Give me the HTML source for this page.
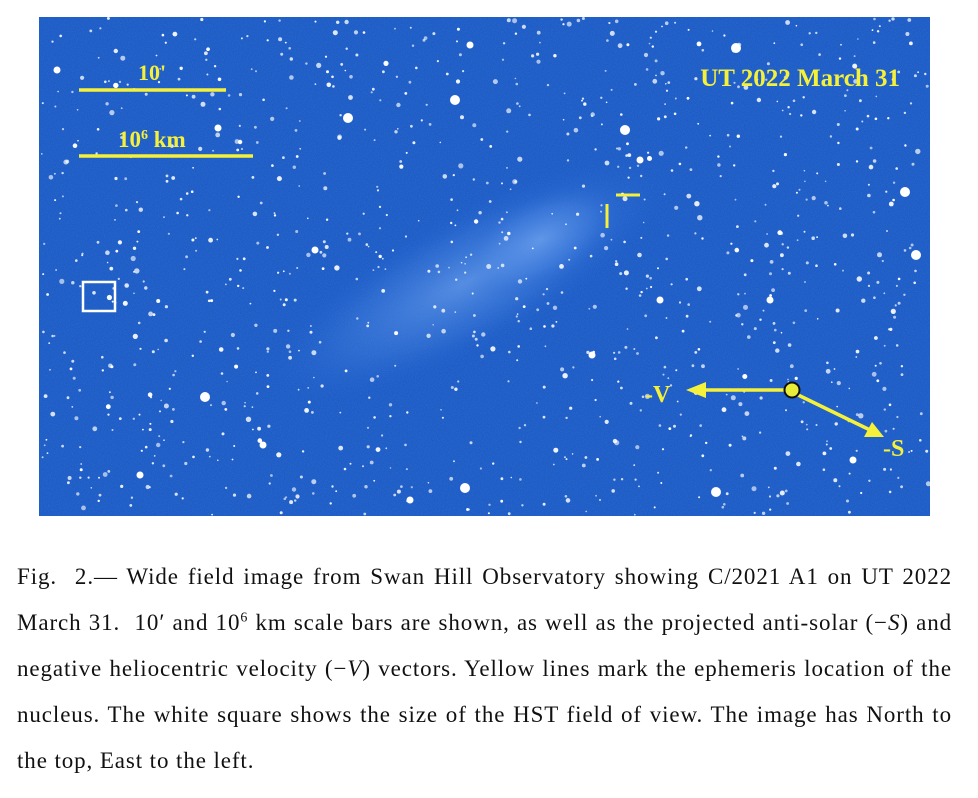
<!DOCTYPE html>
<html><head><meta charset="utf-8">
<style>
html,body{margin:0;padding:0;background:#fff;width:978px;height:798px;overflow:hidden}
#fig{position:absolute;left:39px;top:17px}
#cap{position:absolute;left:17px;top:554px;width:935px;font-family:"Liberation Serif",serif;font-size:23px;letter-spacing:0.9px;line-height:46px;color:#111}
#cap div{text-align:justify;text-align-last:justify;white-space:nowrap}
#cap div.last{text-align-last:left}
</style></head><body>
<svg id="fig" width="891" height="499" viewBox="39 17 891 499">
<defs>
<radialGradient id="tail" cx="0.5" cy="0.5" r="0.5">
<stop offset="0" stop-color="#6fa4ee" stop-opacity="0.7"/>
<stop offset="0.6" stop-color="#4f8ae6" stop-opacity="0.3"/>
<stop offset="1" stop-color="#1e62d2" stop-opacity="0"/>
</radialGradient>
<filter id="noise" x="0" y="0" width="1" height="1"><feTurbulence type="fractalNoise" baseFrequency="1.3" numOctaves="1" seed="3"/><feColorMatrix values="0 0 0 0 0.04  0 0 0 0 0.16  0 0 0 0 0.5  2 0 0 0 -0.7"/></filter>
</defs>
<rect x="39" y="17" width="891" height="499" fill="#1a5bcc"/>
<rect x="39" y="17" width="891" height="499" filter="url(#noise)" opacity="0.8"/>
<ellipse cx="470" cy="280" rx="230" ry="70" transform="rotate(-28 470 280)" fill="url(#tail)"/>
<ellipse cx="540" cy="240" rx="90" ry="45" transform="rotate(-28 540 240)" fill="url(#tail)"/>
<g id="stars"></g>
<line x1="79" y1="90" x2="226" y2="90" stroke="#f5f03a" stroke-width="3.5"/>
<text x="152" y="80" font-family="Liberation Serif" font-weight="bold" font-size="22" fill="#f5f03a" text-anchor="middle">10'</text>
<line x1="79" y1="156" x2="253" y2="156" stroke="#f5f03a" stroke-width="3.5"/>
<text x="118" y="147" font-family="Liberation Serif" font-weight="bold" font-size="23" fill="#f5f03a">10<tspan font-size="14" dy="-8">6</tspan><tspan dy="8"> km</tspan></text>
<text x="900" y="86" font-family="Liberation Serif" font-weight="bold" font-size="25" fill="#f5f03a" text-anchor="end">UT 2022 March 31</text>
<line x1="616" y1="195" x2="640" y2="195" stroke="#f5f03a" stroke-width="3"/>
<line x1="607" y1="204" x2="607" y2="228" stroke="#f5f03a" stroke-width="3"/>
<rect x="83" y="282" width="32" height="29" fill="none" stroke="#fff" stroke-width="2.5"/>
<line x1="790" y1="390" x2="700" y2="390" stroke="#f5f03a" stroke-width="3.5"/>
<polygon points="686,390 706,382 706,398" fill="#f5f03a"/>
<text x="645" y="402" font-family="Liberation Serif" font-weight="bold" font-size="24" fill="#f5f03a">-V</text>
<line x1="792" y1="392" x2="870" y2="430" stroke="#f5f03a" stroke-width="3.5"/>
<polygon points="884,437 864,437 872,422" fill="#f5f03a"/>
<text x="883" y="456" font-family="Liberation Serif" font-weight="bold" font-size="24" fill="#f5f03a">-S</text>
<circle cx="792" cy="390" r="7.5" fill="#e8ee38" stroke="#111" stroke-width="2"/>
</svg>
<div id="cap">
<div>Fig.&nbsp; 2.— Wide field image from Swan Hill Observatory showing C/2021 A1 on UT 2022</div>
<div>March 31.&nbsp; 10′ and 10<sup style="font-size:14px;line-height:0">6</sup> km scale bars are shown, as well as the projected anti-solar (−<i>S</i>) and</div>
<div>negative heliocentric velocity (−<i>V</i>) vectors. Yellow lines mark the ephemeris location of the</div>
<div>nucleus. The white square shows the size of the HST field of view. The image has North to</div>
<div class="last">the top, East to the left.</div>
</div>
<script>
const brightX=[736,348,455,625,905,205,465,716,916,218,470,57,263,660,853,592,410,140,770,640,315];
const brightY=[48,118,100,130,192,397,488,492,255,128,45,70,445,300,460,355,500,475,300,160,250];
const g=document.getElementById('stars');
const NS='http://www.w3.org/2000/svg';
let s=12345;function r(){s=(s*1103515245+12345)%2147483648;return s/2147483648;}
for(let i=0;i<1100;i++){
  const c=document.createElementNS(NS,'circle');
  
  
  const rr=r();
  c.setAttribute('cx',(40+r()*889).toFixed(1));
  c.setAttribute('cy',(18+r()*497).toFixed(1));
  c.setAttribute('r',(rr<0.75?0.8+r()*0.7:1.5+r()*1.2).toFixed(1));
  c.setAttribute('fill','#fff');
  c.setAttribute('opacity',(0.6+r()*0.4).toFixed(2));
  g.appendChild(c);
}
for(let i=0;i<brightX.length;i++){
  const c=document.createElementNS(NS,'circle');
  
  
  c.setAttribute('cx',brightX[i]);c.setAttribute('cy',brightY[i]);
  c.setAttribute('r',i<9?5:3.5);c.setAttribute('fill','#fff');
  g.appendChild(c);
}
</script>
</body></html>
